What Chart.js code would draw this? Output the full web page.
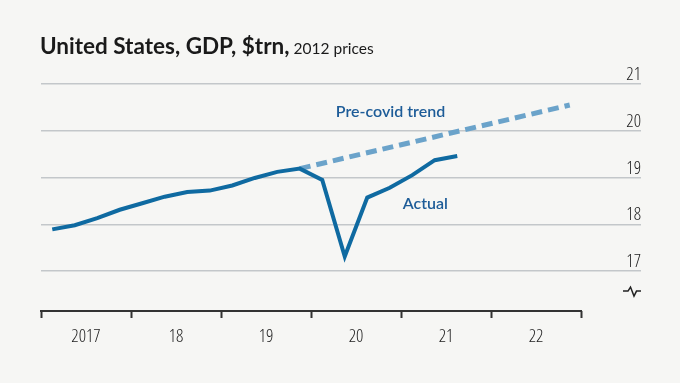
<!DOCTYPE html>
<html>
<head>
<meta charset="utf-8">
<script src="https://cdn.jsdelivr.net/npm/chart.js@4/dist/chart.umd.min.js"></script>
<style>
  html, body { margin: 0; padding: 0; background: #f6f6f4; }
  #wrap { position: relative; width: 680px; height: 383px; overflow: hidden; }
  #title { position: absolute; left: 40px; top: 32px; font-family: Lato, "Open Sans", sans-serif; color: #1a1a1a; white-space: nowrap; }
  #title b { font-weight: 700; font-size: 22.5px; }
  #title span { font-weight: 400; font-size: 15.5px; }
  canvas { position: absolute; left: 0; top: 0; }
</style>
</head>
<body>
<div id="wrap">
  <canvas id="c" width="680" height="383"></canvas>
  <div id="title"><b>United States, GDP, $trn,</b> <span>2012 prices</span></div>
</div>
<script>
// Quarters, 2017Q1 .. 2022Q4
const quarters = ['2017Q1','2017Q2','2017Q3','2017Q4','2018Q1','2018Q2','2018Q3','2018Q4',
                  '2019Q1','2019Q2','2019Q3','2019Q4','2020Q1','2020Q2','2020Q3','2020Q4',
                  '2021Q1','2021Q2','2021Q3','2021Q4','2022Q1','2022Q2','2022Q3','2022Q4'];
// Actual GDP, $trn (2012 prices)
const actualValues = [17.89, 17.98, 18.13, 18.31, 18.45, 18.59, 18.69, 18.72,
                      18.83, 18.99, 19.12, 19.19, 18.95, 17.31, 18.57, 18.78,
                      19.05, 19.37, 19.46];
// Pre-covid trend (straight line between its two ends)
const trendQuarters = ['2019Q4', '2022Q4'];
const trendValues = [19.19, 20.55];
// Axis labels
const yearLabels = ['2017', '18', '19', '20', '21', '22', ''];
const yTicks = [17, 18, 19, 20, 21];

const qPos = q => quarters.indexOf(q) + 0.5;
const actualData = actualValues.map((v, i) => ({ x: qPos(quarters[i]), y: v }));
const trendData = trendValues.map((v, i) => ({ x: qPos(trendQuarters[i]), y: v }));

const tickFont = { family: '"Open Sans", sans-serif', size: 18, weight: 'condensed 350' };

const decor = {
  id: 'decor',
  afterDraw(chart) {
    const { ctx, chartArea, scales: { x, y } } = chart;
    ctx.save();
    // x axis line (only over the years shown)
    ctx.strokeStyle = '#333';
    ctx.lineWidth = 2;
    ctx.beginPath();
    ctx.moveTo(x.getPixelForValue(0) - 1, chartArea.bottom);
    ctx.lineTo(x.getPixelForValue(24) + 1, chartArea.bottom);
    ctx.stroke();
    // axis break symbol
    const by = y.getPixelForValue(16.57);
    const bx = chartArea.right;
    ctx.lineWidth = 1.5;
    ctx.strokeStyle = '#222';
    ctx.beginPath();
    ctx.moveTo(bx - 18, by);
    ctx.lineTo(bx - 13, by);
    ctx.lineTo(bx - 10.5, by - 4);
    ctx.lineTo(bx - 7, by + 5);
    ctx.lineTo(bx - 4.5, by);
    ctx.lineTo(bx, by);
    ctx.stroke();
    // series labels
    ctx.fillStyle = '#1d5c98';
    ctx.font = '600 16px Lato, "Open Sans", sans-serif';
    ctx.textBaseline = 'alphabetic';
    ctx.textAlign = 'left';
    ctx.fillText('Pre-covid trend', x.getPixelForValue(13.1), y.getPixelForValue(20.29));
    ctx.fillText('Actual', x.getPixelForValue(16.08), y.getPixelForValue(18.32));
    ctx.restore();
  }
};

new Chart(document.getElementById('c'), {
  type: 'line',
  data: {
    datasets: [
      { label: 'Actual', data: actualData, borderColor: '#0f6aa1', borderWidth: 4,
        pointRadius: 0, tension: 0, order: 1 },
      { label: 'Pre-covid trend', data: trendData, borderColor: '#6ba3ca', borderWidth: 5,
        borderDash: [11, 6], borderCapStyle: 'butt', pointRadius: 0, tension: 0, order: 2 }
    ]
  },
  options: {
    responsive: false,
    animation: false,
    events: [],
    layout: { padding: { left: 41, right: 39, top: 84, bottom: 0 } },
    plugins: { legend: { display: false }, tooltip: { enabled: false }, title: { display: false } },
    scales: {
      x: {
        type: 'linear', min: 0, max: 600 / 22.5,
        afterBuildTicks: s => { s.ticks = yearLabels.map((_, i) => ({ value: i * 4 })); },
        afterFit: s => { s.height = 72; },
        border: { display: false },
        grid: { display: true, drawOnChartArea: false, drawTicks: true, tickLength: 7,
                tickColor: '#333', tickWidth: 2 },
        ticks: { autoSkip: false, maxRotation: 0, padding: 8, labelOffset: 45,
                 color: '#222', font: tickFont,
                 callback: (v, i) => yearLabels[i] }
      },
      y: {
        type: 'linear', position: 'right', min: 21 - (311 - 84) / 46.75, max: 21,
        afterBuildTicks: s => { s.ticks = yTicks.map(v => ({ value: v })); },
        afterFit: s => { s.width = 0; },
        border: { display: false },
        grid: { color: '#c3c7ca', lineWidth: 1.5, drawTicks: false },
        ticks: { mirror: true, padding: 0, labelOffset: -9, color: '#222', font: tickFont,
                 callback: (v, i) => String(yTicks[i]) }
      }
    }
  },
  plugins: [decor]
});
</script>
</body>
</html>
